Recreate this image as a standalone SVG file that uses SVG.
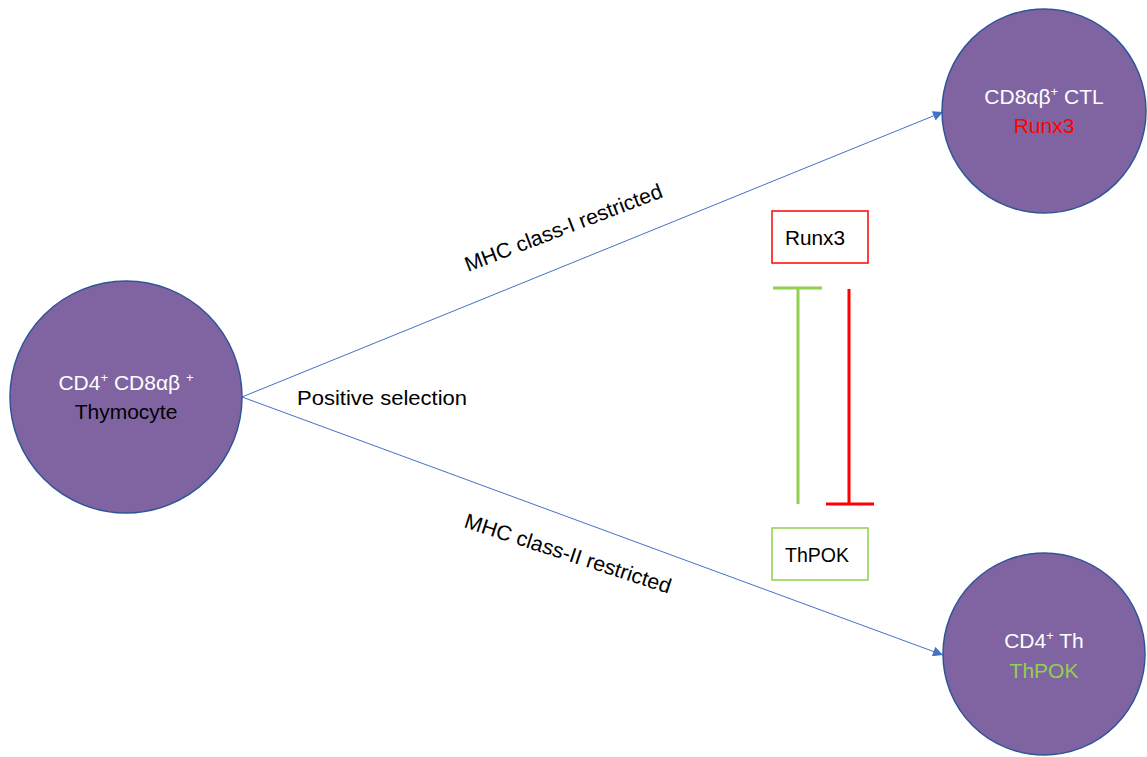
<svg xmlns="http://www.w3.org/2000/svg" width="1147" height="757" viewBox="0 0 1147 757">
<style>
.cell{fill:#8064A2;stroke:#2F5597;stroke-width:1.5}
text{font-family:"Liberation Sans",Arial,sans-serif;font-size:21px}
.w{fill:#FFFFFF}
.k{fill:#000000}
.r{fill:#FF0000}
.g{fill:#92D050}
.conn{stroke:#4472C4;stroke-width:1;fill:none}
.sup{font-size:13px}
</style>
<defs>
<marker id="arr" viewBox="0 0 10 10" refX="10" refY="5" markerWidth="12" markerHeight="10" markerUnits="userSpaceOnUse" orient="auto">
<path d="M0,0 L10,5 L0,10 z" fill="#4472C4"/>
</marker>
</defs>
<rect width="1147" height="757" fill="#FFFFFF"/>
<g id="connectors">
<line class="conn" x1="242" y1="397" x2="943" y2="112" marker-end="url(#arr)"/>
<line class="conn" x1="242" y1="397" x2="943" y2="655" marker-end="url(#arr)"/>
<line x1="798" y1="288" x2="798" y2="504" stroke="#92D050" stroke-width="3"/>
<line x1="773" y1="288" x2="822" y2="288" stroke="#92D050" stroke-width="3"/>
<line x1="849" y1="289" x2="849" y2="504" stroke="#FF0000" stroke-width="3"/>
<line x1="826" y1="504" x2="874" y2="504" stroke="#FF0000" stroke-width="3"/>
<text class="k" x="297" y="405" textLength="170" lengthAdjust="spacingAndGlyphs">Positive selection</text>
<text class="k" transform="translate(468,272) rotate(-21)" x="0" y="0" textLength="210" lengthAdjust="spacingAndGlyphs">MHC class-I restricted</text>
<text class="k" transform="translate(463,527) rotate(18)" x="0" y="0" textLength="216" lengthAdjust="spacingAndGlyphs">MHC class-II restricted</text>
</g>
<g id="thymocyte">
<circle class="cell" cx="126" cy="397" r="116"/>
<text class="w" x="126" y="390" text-anchor="middle">CD4<tspan class="sup" dy="-8">+</tspan><tspan dy="8"> CD8αβ </tspan><tspan class="sup" dy="-8">+</tspan></text>
<text class="k" x="126" y="419" text-anchor="middle">Thymocyte</text>
</g>
<g id="ctl">
<circle class="cell" cx="1044" cy="111" r="102"/>
<text class="w" x="1044" y="104" text-anchor="middle">CD8αβ<tspan class="sup" dy="-8">+</tspan><tspan dy="8"> CTL</tspan></text>
<text class="r" x="1044" y="133" text-anchor="middle">Runx3</text>
</g>
<g id="th">
<circle class="cell" cx="1044" cy="654" r="101"/>
<text class="w" x="1044" y="648" text-anchor="middle">CD4<tspan class="sup" dy="-8">+</tspan><tspan dy="8"> Th</tspan></text>
<text class="g" x="1044" y="678" text-anchor="middle">ThPOK</text>
</g>
<g id="runx3-box">
<rect x="772" y="211" width="96" height="52" fill="#FFFFFF" stroke="#FF0000" stroke-width="1.5"/>
<text class="k" x="785" y="245" textLength="60" lengthAdjust="spacingAndGlyphs">Runx3</text>
</g>
<g id="thpok-box">
<rect x="772" y="528" width="96" height="52" fill="#FFFFFF" stroke="#92D050" stroke-width="1.5"/>
<text class="k" x="785" y="562" textLength="64" lengthAdjust="spacingAndGlyphs">ThPOK</text>
</g>
</svg>
